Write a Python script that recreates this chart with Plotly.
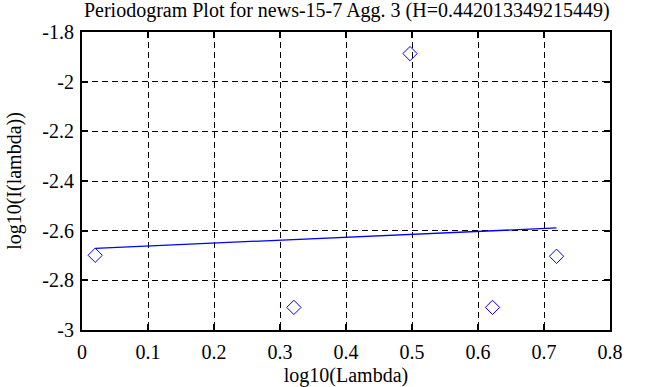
import plotly.graph_objects as go

# Data
log_lambda = [0.020, 0.321, 0.497, 0.622, 0.719]
log_I = [-2.699, -2.909, -1.887, -2.909, -2.703]
fit_x = [0.020, 0.719]
fit_y = [-2.671, -2.589]

x_ticks = [0, 0.1, 0.2, 0.3, 0.4, 0.5, 0.6, 0.7, 0.8]
x_ticktext = ["0", "0.1", "0.2", "0.3", "0.4", "0.5", "0.6", "0.7", "0.8"]
y_ticks = [-3, -2.8, -2.6, -2.4, -2.2, -2, -1.8]
y_ticktext = ["-3", "-2.8", "-2.6", "-2.4", "-2.2", "-2", "-1.8"]

title = "Periodogram Plot for news-15-7 Agg. 3 (H=0.442013349215449)"
FONT = "Liberation Serif"

fig = go.Figure()
fig.add_trace(go.Scatter(
    x=log_lambda, y=log_I, mode="markers",
    marker=dict(symbol="diamond-open", size=11, color="#0000ff", line=dict(width=1, color="#0000ff")),
    showlegend=False,
))
fig.add_trace(go.Scatter(
    x=fit_x, y=fit_y, mode="lines",
    line=dict(color="#0000ff", width=1.3),
    showlegend=False,
))

axis_common = dict(
    showline=True, linecolor="black", linewidth=2, mirror="ticks",
    ticks="inside", ticklen=6, tickwidth=2, tickcolor="black",
    showgrid=True, gridcolor="black", gridwidth=1, griddash="6px,4px",
    zeroline=False, automargin=False,
    tickfont=dict(family=FONT, size=20, color="black"),
)

fig.update_xaxes(
    range=[0, 0.8], tickvals=x_ticks, ticktext=x_ticktext,
    title=dict(text="log10(Lambda)", font=dict(family=FONT, size=20, color="black")),
    ticklabelstandoff=3,
    **axis_common,
)
fig.update_yaxes(
    range=[-3, -1.8], tickvals=y_ticks, ticktext=y_ticktext,
    title=dict(text="log10(I(lambda))", font=dict(family=FONT, size=20, color="black")),
    ticklabelstandoff=2,
    **axis_common,
)

fig.update_layout(
    width=647, height=387,
    margin=dict(l=82, r=37, t=32, b=57),
    paper_bgcolor="white", plot_bgcolor="white",
    title=dict(text=title, x=0.536, xanchor="center", y=1, yanchor="top",
               pad=dict(t=3, b=0, l=0, r=0),
               font=dict(family=FONT, size=20, color="black")),
    font=dict(family=FONT, size=20, color="black"),
)

fig.write_html("out.html", config={"displayModeBar": False},
               post_script="document.body.style.margin='0';")
